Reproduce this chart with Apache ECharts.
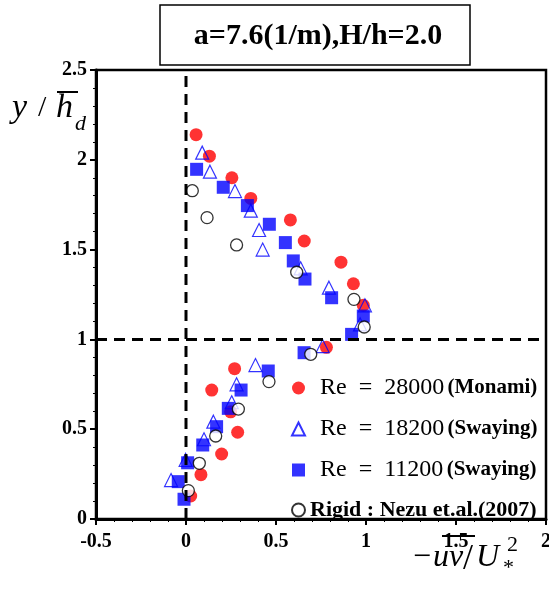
<!DOCTYPE html>
<html><head><meta charset="utf-8">
<script src="https://cdn.jsdelivr.net/npm/echarts@6/dist/echarts.min.js"></script>
<style>html,body{margin:0;padding:0;background:#fff}#c{width:549px;height:595px}</style>
</head><body><div id="c"></div><script>
// Re = 28000 (Monami) - filled red circles
const monamiX = [0.056,0.13,0.255,0.36,0.58,0.657,0.861,0.93,0.985,0.78,0.27,0.143,0.248,0.287,0.198,0.083,0.026];
const monamiY = [2.14,2.02,1.90,1.785,1.665,1.548,1.43,1.31,1.19,0.956,0.837,0.718,0.597,0.483,0.362,0.247,0.128];
// Re = 18200 (Swaying) - open blue triangles
const sway18X = [0.09,0.133,0.272,0.36,0.406,0.426,0.637,0.794,0.994,0.967,0.759,0.386,0.281,0.254,0.152,0.1,-0.002,-0.083];
const sway18Y = [2.04,1.934,1.826,1.717,1.609,1.50,1.396,1.288,1.19,1.084,0.963,0.857,0.75,0.65,0.542,0.444,0.329,0.217];
// Re = 11200 (Swaying) - filled blue squares
const sway11X = [0.059,0.207,0.341,0.463,0.552,0.596,0.661,0.809,0.985,0.92,0.656,0.457,0.306,0.235,0.17,0.093,0.009,-0.043,-0.011];
const sway11Y = [1.947,1.847,1.745,1.641,1.539,1.437,1.336,1.232,1.13,1.028,0.926,0.824,0.718,0.616,0.514,0.412,0.313,0.208,0.11];
// Rigid : Nezu et.al.(2007) - open black circles
const rigidX = [0.035,0.117,0.281,0.615,0.933,0.99,0.693,0.461,0.291,0.165,0.074,0.013];
const rigidY = [1.828,1.678,1.526,1.374,1.223,1.069,0.917,0.765,0.612,0.462,0.31,0.158];
// reference lines
const vLineX = [0, 0];
const vLineY = [0, 2.5];
const hLineX = [-0.5, 2];
const hLineY = [1, 1];

const titleText = 'a=7.6(1/m),H/h=2.0';
const legendNames = ['Re28000', 'Re18200', 'Re11200', 'Rigid'];
const legendLabels = {
  Re28000: '{a|Re\u2002=\u200228000} {b|(Monami)}',
  Re18200: '{a|Re\u2002=\u200218200} {b|(Swaying)}',
  Re11200: '{a|Re\u2002=\u200211200} {b|(Swaying)}',
  Rigid: '{c|Rigid : Nezu et.al.(2007)}'
};

const zip = (xs, ys) => xs.map((x, i) => [x, ys[i]]);
const SERIF = '"Liberation Serif","Times New Roman",serif';
const chart = echarts.init(document.getElementById('c'));
const dash = {type: 'line', symbol: 'none', silent: true, z: 10,
  lineStyle: {color: '#000', width: 3, type: [11, 7]}};

chart.setOption({
  animation: false,
  backgroundColor: '#fff',
  grid: {left: 96, right: 3, top: 70, bottom: 76, show: true, borderColor: '#000', borderWidth: 2.5,
         containLabel: false, outerBoundsMode: 'none'},
  xAxis: {
    type: 'value', min: -0.5, max: 2, interval: 0.5,
    axisLine: {show: true, onZero: false, lineStyle: {color: '#000', width: 3}},
    axisTick: {show: true, length: 6, lineStyle: {color: '#000', width: 2}},
    minorTick: {show: true, splitNumber: 5, length: 3, lineStyle: {color: '#000', width: 1}},
    splitLine: {show: false},
    axisLabel: {color: '#000', fontFamily: SERIF, fontWeight: 'bold', fontSize: 20, margin: 13}
  },
  yAxis: {
    type: 'value', min: 0, max: 2.5, interval: 0.5,
    axisLine: {show: true, onZero: false, lineStyle: {color: '#000', width: 3}},
    axisTick: {show: true, length: 6, lineStyle: {color: '#000', width: 2}},
    minorTick: {show: true, splitNumber: 5, length: 3, lineStyle: {color: '#000', width: 1}},
    splitLine: {show: false},
    axisLabel: {color: '#000', fontFamily: SERIF, fontWeight: 'bold', fontSize: 20, margin: 9}
  },
  legend: {
    data: legendNames, orient: 'vertical', left: 291, top: 376, padding: 0,
    itemWidth: 13, itemHeight: 13, itemGap: 17, selectedMode: false,
    formatter: n => legendLabels[n],
    textStyle: {color: '#000', rich: {
      a: {fontFamily: SERIF, fontSize: 24, color: '#000', padding: [0, 0, 0, 10]},
      b: {fontFamily: SERIF, fontSize: 21, fontWeight: 'bold', color: '#000'},
      c: {fontFamily: SERIF, fontSize: 22, fontWeight: 'bold', color: '#000'}
    }}
  },
  series: [
    {name: 'Re28000', type: 'scatter', symbol: 'circle', symbolSize: 13,
     itemStyle: {color: '#ff0000'}, data: zip(monamiX, monamiY)},
    {name: 'Re11200', type: 'scatter', symbol: 'rect', symbolSize: 13,
     itemStyle: {color: '#0000ff'}, data: zip(sway11X, sway11Y)},
    {name: 'Re18200', type: 'scatter', symbol: 'triangle', symbolSize: 13,
     itemStyle: {color: 'rgba(255,255,255,0)', borderColor: '#0000ff', borderWidth: 1.2}, data: zip(sway18X, sway18Y)},
    {name: 'Rigid', type: 'scatter', symbol: 'circle', symbolSize: 12,
     itemStyle: {color: '#ffffff', borderColor: '#000', borderWidth: 1.3}, data: zip(rigidX, rigidY)},
    Object.assign({name: 'vline', data: zip(vLineX, vLineY)}, dash),
    Object.assign({name: 'hline', data: zip(hLineX, hLineY)}, dash)
  ],
  graphic: [
    {type: 'rect', shape: {x: 160, y: 5, width: 310, height: 60},
     style: {fill: '#fff', stroke: '#000', lineWidth: 1.5}},
    {type: 'text', style: {x: 318, y: 36, text: titleText, textAlign: 'center', textVerticalAlign: 'middle',
     font: 'bold 30px ' + SERIF, fill: '#000'}},
    // y-axis name: y / h̄_d
    {type: 'text', style: {x: 12, y: 108, text: 'y', textVerticalAlign: 'middle', font: 'italic 34px ' + SERIF, fill: '#000'}},
    {type: 'text', style: {x: 38, y: 108, text: '/', textVerticalAlign: 'middle', font: '30px ' + SERIF, fill: '#000'}},
    {type: 'text', style: {x: 56, y: 108, text: 'h', textVerticalAlign: 'middle', font: 'italic 34px ' + SERIF, fill: '#000'}},
    {type: 'line', shape: {x1: 57, y1: 92, x2: 78, y2: 92}, style: {stroke: '#000', lineWidth: 2}},
    {type: 'text', style: {x: 75, y: 124, text: 'd', textVerticalAlign: 'middle', font: 'italic 22px ' + SERIF, fill: '#000'}},
    // x-axis name: −uv̄ / U*²
    {type: 'text', style: {x: 413, y: 558, text: '\u2212', textVerticalAlign: 'middle', font: '32px ' + SERIF, fill: '#000'}},
    {type: 'text', style: {x: 433, y: 558, text: 'uv', textVerticalAlign: 'middle', font: 'italic 32px ' + SERIF, fill: '#000'}},
    {type: 'line', shape: {x1: 442, y1: 536, x2: 475, y2: 536}, style: {stroke: '#000', lineWidth: 2}},
    {type: 'text', style: {x: 463, y: 560, text: '/', textVerticalAlign: 'middle', font: '36px ' + SERIF, fill: '#000'}},
    {type: 'text', style: {x: 476, y: 558, text: 'U', textVerticalAlign: 'middle', font: 'italic 32px ' + SERIF, fill: '#000'}},
    {type: 'text', style: {x: 503, y: 568, text: '*', textVerticalAlign: 'middle', font: '22px ' + SERIF, fill: '#000'}},
    {type: 'text', style: {x: 507, y: 545, text: '2', textVerticalAlign: 'middle', font: '22px ' + SERIF, fill: '#000'}}
  ]
});
</script></body></html>
